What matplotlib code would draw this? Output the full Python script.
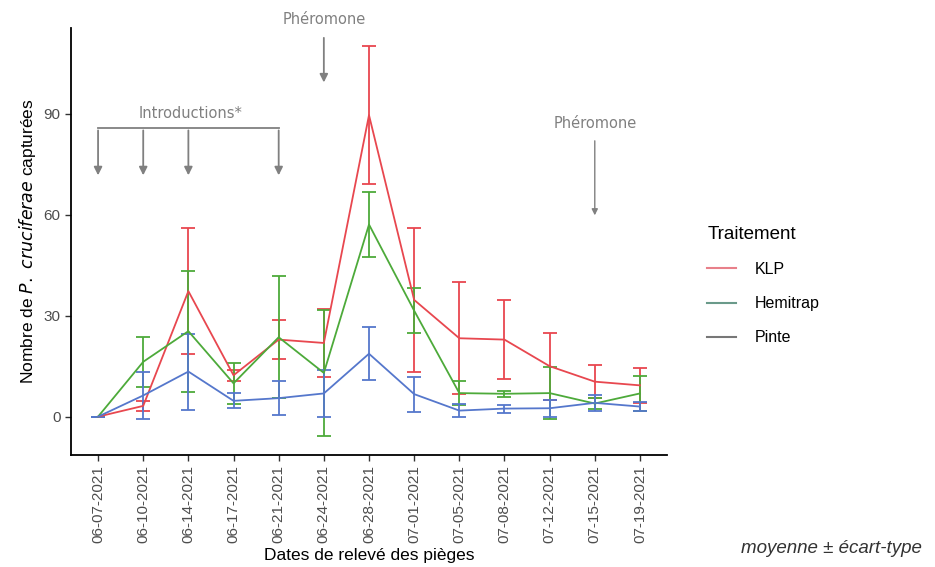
import matplotlib.pyplot as plt
from matplotlib.lines import Line2D
import numpy as np

plt.rcParams['font.family'] = ['Liberation Sans', 'DejaVu Sans']

# data (mean +- sd)
dates = ["06-07-2021", "06-10-2021", "06-14-2021", "06-17-2021", "06-21-2021",
         "06-24-2021", "06-28-2021", "07-01-2021", "07-05-2021", "07-08-2021",
         "07-12-2021", "07-15-2021", "07-19-2021"]
klp = [0, 3.2, 37.3, 12.3, 22.9, 21.9, 89.6, 34.7, 23.3, 22.9, 15.0, 10.4, 9.3]
klp_sd = [0, 1.6, 18.7, 1.6, 5.9, 10.2, 20.6, 21.5, 16.6, 11.8, 10.0, 5.0, 5.1]
hemitrap = [0, 16.3, 25.4, 9.9, 23.6, 13.0, 57.1, 31.5, 7.0, 6.8, 7.0, 3.9, 6.9]
hemitrap_sd = [0, 7.4, 18.0, 6.0, 18.2, 18.6, 9.6, 6.6, 3.5, 0.9, 7.8, 1.5, 5.2]
pinte = [0, 6.3, 13.4, 4.7, 5.5, 6.9, 18.7, 6.7, 1.8, 2.4, 2.5, 4.1, 3.0]
pinte_sd = [0, 6.9, 11.3, 2.2, 5.0, 7.0, 7.8, 5.2, 1.9, 1.2, 2.5, 2.3, 1.4]

series = [("KLP", klp, klp_sd, "#E8474F", "#E8808A"),
          ("Hemitrap", hemitrap, hemitrap_sd, "#4DAA3A", "#6A9A8A"),
          ("Pinte", pinte, pinte_sd, "#5577CC", "#777777")]

fig = plt.figure(figsize=(9.35, 5.67), dpi=100)
ax = fig.add_axes([0.0759, 0.1975, 0.6375, 0.7531])
x = np.arange(len(dates))

for name, m, sd, col, _ in series:
    ax.errorbar(x, m, yerr=sd, color=col, lw=1.3, elinewidth=1.3,
                capsize=4.7, capthick=1.3)

ax.set_xlim(-0.6, 12.6)
ax.set_ylim(-11.4, 115.5)
ax.set_xticks(x)
ax.set_xticklabels(dates, rotation=90, fontsize=11, color='#4D4D4D')
ax.set_yticks([0, 30, 60, 90])
ax.tick_params(axis='y', labelsize=11, labelcolor='#4D4D4D')
ax.tick_params(length=4, width=1, color='#333333')
for s in ['top', 'right']:
    ax.spines[s].set_visible(False)
for s in ['left', 'bottom']:
    ax.spines[s].set_linewidth(1.3)

ax.set_xlabel("Dates de relevé des pièges", fontsize=12.5, labelpad=3)
ax.set_ylabel(r"Nombre de $\it{P.\ cruciferae}$ capturées", fontsize=12.5)

# annotations
gray = '#808080'
arrow = dict(arrowstyle='-|>', color=gray, lw=1.3, mutation_scale=12)
ax.text(2.05, 90.2, "Introductions*", ha='center', va='center', color=gray,
        fontsize=10.5, family='DejaVu Sans')
ax.plot([0, 4], [85.7, 85.7], color=gray, lw=1.3)
for xi in [0, 1, 2, 4]:
    ax.annotate('', xy=(xi, 70.9), xytext=(xi, 85.9), arrowprops=arrow)
ax.text(5, 118, "Phéromone", ha='center', va='center', color=gray,
        fontsize=10.5, family='DejaVu Sans', clip_on=False)
ax.annotate('', xy=(5, 98.5), xytext=(5, 113.4), arrowprops=arrow,
            annotation_clip=False)
ax.text(11, 87.2, "Phéromone", ha='center', va='center', color=gray,
        fontsize=10.5, family='DejaVu Sans')
ax.annotate('', xy=(11, 59), xytext=(11, 82.8),
            arrowprops=dict(arrowstyle='-|>', color=gray, lw=1.0, mutation_scale=9))

# legend
handles = [Line2D([], [], color=lc, lw=1.5) for _, _, _, _, lc in series]
leg = fig.legend(handles, [s[0] for s in series], title="Traitement",
                 loc='upper left', bbox_to_anchor=(0.741, 0.627), frameon=False,
                 fontsize=11.5, title_fontsize=13.5, handlelength=1.8,
                 labelspacing=1.2, handletextpad=1.2)
leg._legend_box.align = 'left'

fig.text(0.986, 0.032, "moyenne ± écart-type", ha='right', va='center',
         fontsize=13.5, style='italic', color='#333333')

fig.savefig("out.png", dpi=100)
